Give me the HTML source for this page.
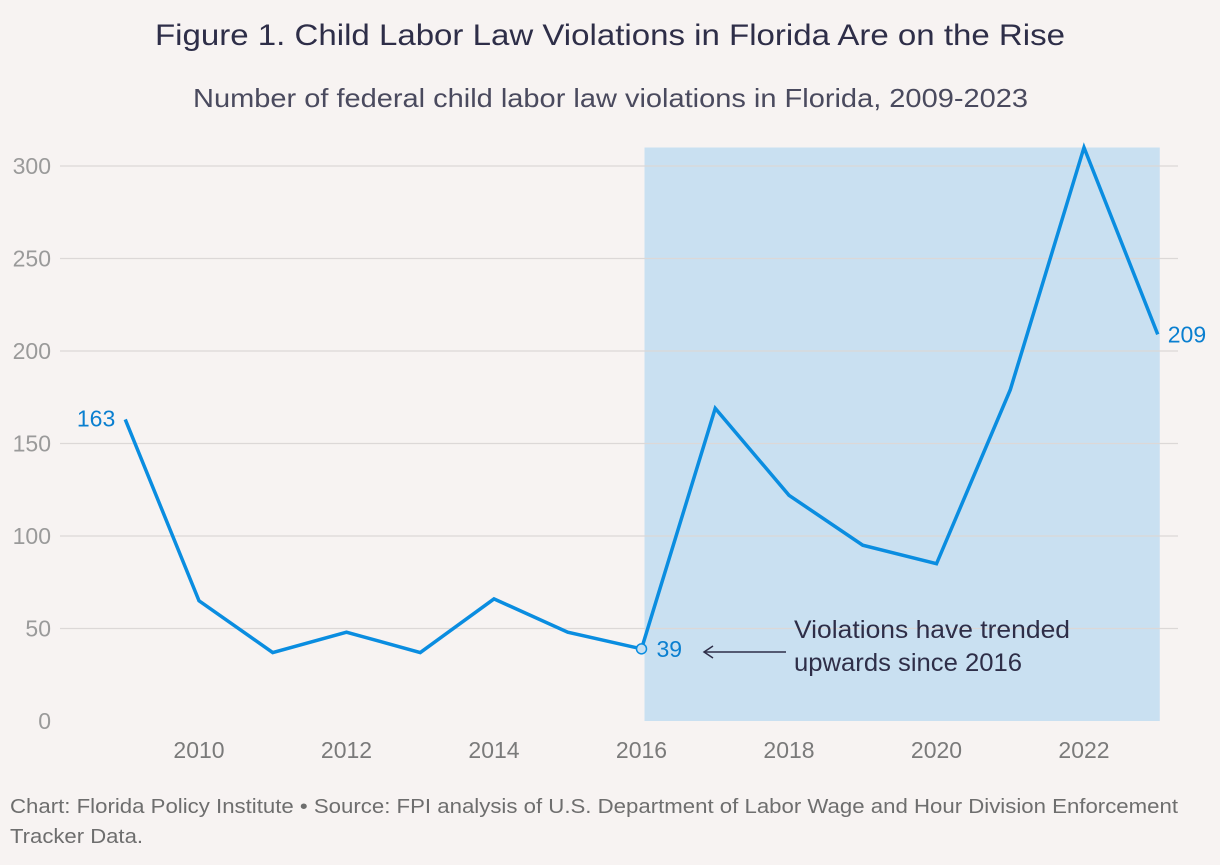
<!DOCTYPE html>
<html><head><meta charset="utf-8"><style>
body{margin:0;background:#f7f3f2;font-family:"Liberation Sans",sans-serif;}
#wrap{position:relative;width:1220px;height:860px;background:#f7f3f2;}
</style></head><body>
<div id="wrap">
<svg id="chart" width="1220" height="860">
<text x="155" y="45" font-size="30" fill="#2e2e48" textLength="910" lengthAdjust="spacingAndGlyphs">Figure 1. Child Labor Law Violations in Florida Are on the Rise</text>
<text x="193" y="107" font-size="26" fill="#4a4a5e" textLength="835" lengthAdjust="spacingAndGlyphs">Number of federal child labor law violations in Florida, 2009-2023</text>
<g id="grid"></g><g id="marks"></g>
<text x="10" y="813" font-size="20" fill="#6e6e6e" textLength="1168" lengthAdjust="spacingAndGlyphs">Chart: Florida Policy Institute • Source: FPI analysis of U.S. Department of Labor Wage and Hour Division Enforcement</text>
<text x="10" y="843" font-size="20" fill="#6e6e6e" textLength="133" lengthAdjust="spacingAndGlyphs">Tracker Data.</text>
</svg>
</div>
<script>
const years=[2009,2010,2011,2012,2013,2014,2015,2016,2017,2018,2019,2020,2021,2022,2023];
const violations=[163,65,37,48,37,66,48,39,169,122,95,85,179,310,209];
const yTicks=[0,50,100,150,200,250,300];
const xTicks=[2010,2012,2014,2016,2018,2020,2022];
const ns="http://www.w3.org/2000/svg";
const xS=y=>125.25+(y-2009)*73.75;
const yS=v=>721-v*1.85;
function mk(t,a,p){const e=document.createElementNS(ns,t);for(const k in a)e.setAttribute(k,a[k]);p.appendChild(e);return e;}
const g=document.getElementById('grid'),m=document.getElementById('marks');
const sh=mk('rect',{x:xS(2016)+3,y:yS(310),width:xS(2023)+2-xS(2016)-3,height:yS(0)-yS(310),fill:'#c9e0f1'},g);


yTicks.forEach(v=>{
 if(v>0){const l=mk('line',{x1:60,x2:1178,y1:yS(v),y2:yS(v),stroke:'#dcd8d7','stroke-width':1.2},g);
 
 }
 const t=mk('text',{x:51,y:yS(v)+8,'text-anchor':'end','font-size':23,fill:'#9a9a9a'},g);t.textContent=v;
 
 
});
xTicks.forEach(y=>{const t=mk('text',{x:xS(y),y:758,'text-anchor':'middle','font-size':23,fill:'#7a7a7a'},g);t.textContent=y;
 
 });
const pts=years.map((y,i)=>xS(y)+','+yS(violations[i])).join(' ');
const pl=mk('polyline',{points:pts,fill:'none',stroke:'#0a8de0','stroke-width':3.5,'stroke-linejoin':'miter'},m);


const i16=years.indexOf(2016);
const c=mk('circle',{cx:xS(2016),cy:yS(violations[i16]),r:5,fill:'#c9e0f1',stroke:'#0a8de0','stroke-width':1.5},m);


function lab(x,y,txt,anchor,name){const t=mk('text',{x:x,y:y,'text-anchor':anchor,'font-size':23,fill:'#0a7fd0'},m);t.textContent=txt;
 
 }
lab(xS(2009)-10,yS(violations[0])+7,violations[0],'end','label-2009');
lab(xS(2016)+15,yS(violations[i16])+8,violations[i16],'start','label-2016');
lab(xS(2023)+10,yS(violations[14])+8,violations[14],'start','label-2023');
const ar=mk('line',{x1:786,x2:705,y1:652,y2:652,stroke:'#2e2e48','stroke-width':1.5},m);


const ah=mk('path',{d:'M713 646 L704 652 L713 658',fill:'none',stroke:'#2e2e48','stroke-width':1.5},m);


const an=mk('text',{x:794,y:638,'font-size':25,fill:'#2e2e48'},m);


an.innerHTML='<tspan x="794" textLength="276" lengthAdjust="spacingAndGlyphs">Violations have trended</tspan><tspan x="794" dy="33" textLength="228" lengthAdjust="spacingAndGlyphs">upwards since 2016</tspan>';
</script>
</body></html>
